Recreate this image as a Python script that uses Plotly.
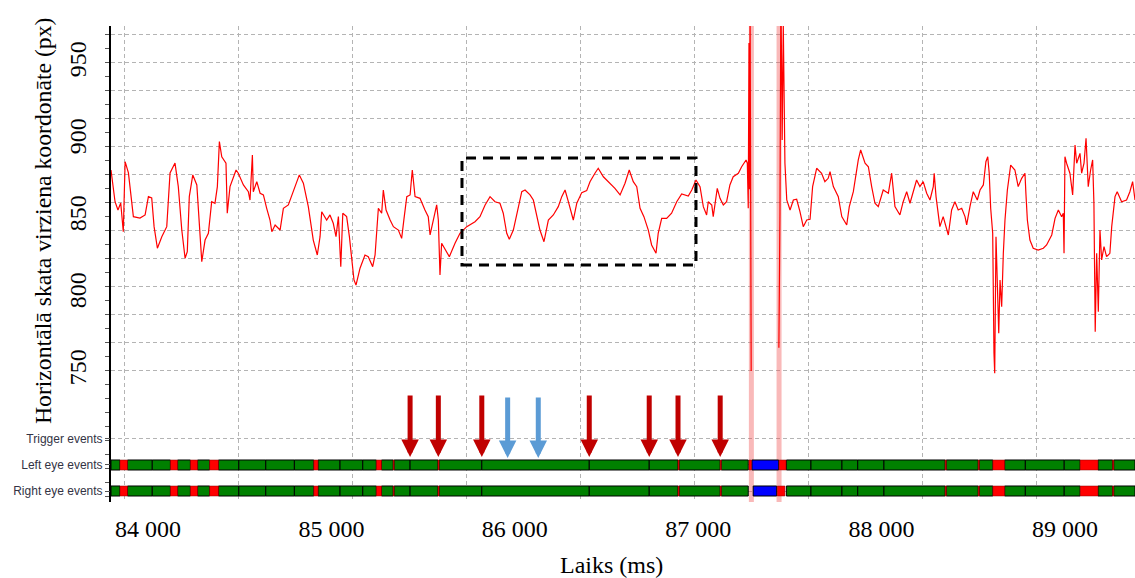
import plotly.graph_objects as go

# ---------------------------------------------------------------------------
# Gaze recording: horizontal gaze coordinate (px) against time (ms)
# ---------------------------------------------------------------------------
time_ms = [
    83798, 83808, 83820, 83836, 83851, 83865, 83875, 83893, 83911, 83920,
    83956, 83984, 84002, 84020, 84033, 84051, 84075, 84102, 84120, 84147,
    84165, 84184, 84202, 84214, 84225, 84244, 84266, 84284, 84293, 84311,
    84329, 84347, 84365, 84378, 84389, 84402, 84425, 84432, 84447, 84480,
    84492, 84520, 84547, 84556, 84569, 84574, 84593, 84611, 84629, 84647,
    84665, 84675, 84693, 84720, 84738, 84765, 84792, 84825, 84847, 84874,
    84901, 84923, 84938, 84947, 84974, 84992, 85010, 85025, 85038, 85051,
    85062, 85083, 85098, 85111, 85123, 85134, 85156, 85183, 85201, 85225,
    85238, 85256, 85274, 85283, 85298, 85320, 85338, 85365, 85383, 85396,
    85411, 85429, 85441, 85456, 85483, 85510, 85528, 85538, 85552, 85574,
    85583, 85592, 85601, 85629, 85643, 85674, 85701, 85738, 85783, 85810,
    85838, 85865, 85892, 85919, 85937, 85956, 85970, 85992, 86019, 86038,
    86056, 86083, 86101, 86119, 86137, 86159, 86183, 86210, 86237, 86256,
    86274, 86292, 86310, 86319, 86338, 86365, 86392, 86410, 86437, 86455,
    86483, 86510, 86546, 86574, 86601, 86624, 86646, 86665, 86683, 86704,
    86728, 86746, 86770, 86782, 86801, 86828, 86855, 86883, 86910, 86946,
    86965, 86988, 87010, 87028, 87046, 87055, 87074, 87082, 87104, 87119,
    87137, 87155, 87173, 87191, 87219, 87237, 87261, 87268, 87273,
    87277, 87280, 87283, 87286, 87289, 87365,
    87440, 87446, 87451, 87458, 87464, 87470,
    87473, 87483, 87501, 87519, 87537, 87555, 87573, 87592, 87610, 87624, 87646,
    87673, 87691, 87709, 87719, 87737, 87764, 87783, 87810, 87824, 87846,
    87873, 87886, 87910, 87928, 87946, 87964, 87982, 88009, 88037, 88055,
    88073, 88100, 88118, 88137, 88155, 88173, 88191, 88209, 88227, 88246,
    88264, 88282, 88287, 88297, 88309, 88318, 88336, 88355, 88364, 88382,
    88400, 88418, 88437, 88455, 88464, 88482, 88500, 88522, 88537, 88555,
    88569, 88579, 88587, 88595, 88606, 88613, 88617, 88624, 88631, 88639,
    88646, 88655, 88664, 88673, 88686, 88704, 88727, 88745, 88764, 88782,
    88787, 88795, 88809, 88827, 88854, 88882, 88900, 88928, 88946, 88964,
    88982, 88991, 88995, 89000, 89009, 89027, 89042, 89055, 89064, 89082,
    89091, 89104, 89115, 89127, 89140, 89151, 89158, 89165, 89173, 89182,
    89191, 89200, 89213, 89227, 89245, 89255, 89273, 89285, 89309, 89336,
    89354, 89369, 89382,
]

gaze_px = [
    880.5, 869.7, 859.9, 854.5, 859.1, 840.4, 885.9, 878.6, 859.1, 850.2,
    849.3, 851.3, 863.2, 862.3, 843.7, 829.7, 837.2, 843.7, 878.6, 885.0,
    869.7, 841.5, 823.2, 827.4, 863.2, 877.3, 870.8, 841.5, 821.0, 835.0,
    839.4, 859.9, 858.9, 869.7, 898.9, 889.1, 884.9, 852.4, 869.7, 880.5,
    878.4, 870.8, 866.4, 861.0, 890.2, 866.4, 872.9, 865.4, 864.3, 855.6,
    848.0, 840.4, 844.8, 841.5, 855.6, 857.8, 866.4, 877.3, 871.9, 856.7,
    835.0, 825.3, 837.2, 853.4, 848.0, 851.3, 845.9, 837.2, 850.2, 817.7,
    852.4, 850.2, 837.2, 824.2, 809.1, 805.8, 816.7, 825.3, 824.2, 817.7,
    825.3, 855.6, 852.4, 867.5, 854.5, 848.0, 843.7, 841.5, 836.1, 849.1,
    863.2, 864.3, 880.5, 863.2, 862.1, 854.5, 850.2, 838.3, 845.9, 857.8,
    848.0, 812.3, 832.9, 826.4, 824.2, 832.9, 839.4, 843.7, 846.9, 850.2,
    857.8, 863.2, 859.9, 858.9, 852.4, 839.4, 835.5, 841.5, 856.7, 866.4,
    867.5, 864.3, 861.0, 851.3, 841.5, 833.9, 848.0, 851.3, 856.7, 863.2,
    867.5, 859.9, 852.4, 848.0, 858.9, 865.8, 867.1, 872.9, 878.4, 881.6,
    876.1, 872.9, 868.6, 864.3, 871.9, 880.5, 872.9, 869.7, 855.6, 850.2,
    841.5, 831.8, 826.4, 839.4, 849.1, 849.1, 852.4, 859.9, 864.9, 863.6,
    867.5, 874.0, 869.7, 856.7, 851.3, 859.9, 857.8, 850.2, 868.6, 862.1,
    857.8, 859.9, 870.8, 876.1, 878.4, 882.6, 887.0, 884.9, 855.6,
    963.0, 868.0, 990.0, 820.0, 750.0, None,
    765.0, 853.0, 1000.0, 900.0, 975.0, 905.0,
    884.9, 861.0, 854.5, 861.0, 861.5, 853.4, 843.7, 848.0, 848.5, 869.7, 881.6,
    878.4, 872.9, 875.1, 879.4, 869.7, 863.2, 850.2, 844.8, 856.7, 866.4,
    887.0, 893.5, 884.9, 882.6, 869.7, 858.9, 856.7, 867.5, 865.4, 878.4,
    856.7, 851.3, 859.9, 866.4, 858.9, 866.4, 874.0, 869.7, 872.9, 865.4,
    861.0, 869.7, 878.4, 863.2, 852.4, 843.7, 850.2, 841.5, 838.3, 854.5,
    859.9, 854.5, 855.6, 850.2, 844.8, 856.7, 866.4, 861.0, 867.5, 870.8,
    885.9, 889.1, 878.4, 855.6, 839.4, 761.5, 748.5, 837.2, 800.4, 774.5,
    809.1, 791.7, 826.4, 848.0, 867.5, 883.7, 880.5, 869.7, 875.1, 878.4,
    865.4, 848.0, 835.0, 829.7, 828.5, 829.7, 831.8, 838.3, 849.1, 854.5,
    850.2, 852.4, 826.4, 889.1, 884.9, 878.4, 864.3, 896.7, 884.9, 891.3,
    878.4, 884.9, 901.1, 869.7, 880.5, 887.0, 858.9, 775.5, 826.4, 788.5,
    841.5, 822.1, 830.7, 824.2, 826.4, 843.7, 863.2, 866.4, 859.9, 861.0,
    866.4, 872.9, 861.0,
]

# Blink artefacts (tracker jumps off-scale)
blink_ms = [87290, 87441]

# ---------------------------------------------------------------------------
# Eye events: (start ms, end ms, kind)  F = fixation, S = saccade, B = blink
# ---------------------------------------------------------------------------
events_before_blink = [
    (83798, 83847, "F"), (83847, 83888, "S"), (83888, 84023, "F"), (84023, 84122, "F"),
    (84122, 84161, "S"), (84161, 84231, "F"), (84231, 84270, "S"), (84270, 84336, "F"),
    (84336, 84384, "S"), (84384, 84495, "F"), (84495, 84642, "F"), (84642, 84798, "F"),
    (84798, 84904, "F"), (84904, 84927, "S"), (84927, 85047, "F"), (85047, 85171, "F"),
    (85171, 85245, "F"), (85245, 85273, "S"), (85273, 85337, "F"), (85337, 85342, "S"),
    (85342, 85429, "F"), (85429, 85581, "F"), (85581, 85587, "S"), (85587, 85820, "F"),
    (85820, 86406, "F"), (86406, 86733, "F"), (86733, 86890, "F"), (86890, 86896, "S"),
    (86896, 87120, "F"), (87120, 87126, "S"), (87126, 87273, "F"),
]
left_blink_events = [(87277, 87291, "S"), (87293, 87439, "B"), (87441, 87479, "S")]
right_blink_events = [(87300, 87428, "B"), (87431, 87473, "S")]
events_after_blink = [
    (87481, 87615, "F"), (87615, 87784, "F"), (87784, 87870, "F"), (87870, 88013, "F"),
    (88013, 88347, "F"), (88347, 88353, "S"), (88353, 88527, "F"), (88527, 88533, "S"),
    (88533, 88607, "F"), (88607, 88671, "S"), (88671, 88784, "F"), (88784, 88996, "F"),
    (88996, 89083, "F"), (89083, 89180, "S"), (89180, 89260, "F"), (89260, 89266, "S"),
    (89266, 89382, "F"),
]
left_eye_events = events_before_blink + left_blink_events + events_after_blink
right_eye_events = events_before_blink + right_blink_events + events_after_blink

# Trigger markers (ms)
trigger_red_ms = [85429, 85583, 85820, 86406, 86733, 86890, 87120]
trigger_blue_ms = [85961, 86128]

# Highlighted window
window_ms = [85712, 86988]
window_px = [818.8, 888.3]

# Axes: ranges, grid positions and labels
x_range = [83798, 89382]
gaze_range = [664.9, 974.0]
row_range = [0.577, 18.88]
x_grid_ms = [83869, 84491, 85113, 85735, 86357, 86979, 87601, 88223, 88845]
x_label_ms = [84000, 85000, 86000, 87000, 88000, 89000]
x_label_text = ["84 000", "85 000", "86 000", "87 000", "88 000", "89 000"]
y_label_px = [750, 800, 850, 900, 950]
y_label_text = ["750", "800", "850", "900", "950"]
y_grid_px = [750 + k * 50 / 2.75 for k in range(13)]
y_minor_px = [750 + k * 25 / 2.75 for k in range(-9, 25)]
row_values = [0, 1, 2, 3]
row_names = ["User events", "Right eye events", "Left eye events", "Trigger events"]

SERIF = "Liberation Serif"
SANS = "Liberation Sans"
GRID = "#b4b4b4"
GRID_DASH = "4px,3px"

fig = go.Figure()

# pale full-height strokes where the tracker lost the eye
for t in blink_ms:
    fig.add_trace(go.Scatter(
        x=[t, t], y=[0, 2000], mode="lines",
        line=dict(color="rgba(240,80,80,0.40)", width=5),
        hoverinfo="skip", showlegend=False))

# gaze trace
fig.add_trace(go.Scatter(
    x=time_ms, y=gaze_px, mode="lines",
    line=dict(color="#ff0000", width=1.2),
    connectgaps=False, hoverinfo="skip", showlegend=False))

# event rows as horizontal bars
kind_style = {
    "F": dict(color="#008000", line=dict(color="#000000", width=1)),
    "B": dict(color="#0000ff", line=dict(color="#000000", width=1)),
    "S": dict(color="#ff0000", line=dict(color="#8a0000", width=0.5)),
}
for row_value, events in ((2, left_eye_events), (1, right_eye_events)):
    for kind in ("F", "B", "S"):
        sel = [e for e in events if e[2] == kind]
        fig.add_trace(go.Bar(
            orientation="h",
            base=[s for s, _, _ in sel],
            x=[e - s for s, e, _ in sel],
            y=[row_value] * len(sel),
            width=0.385,
            marker=kind_style[kind],
            xaxis="x", yaxis="y2",
            hoverinfo="skip", showlegend=False))

# empty trace so the label-only axes get their own subplot
fig.add_trace(go.Scatter(x=[], y=[], xaxis="x2", yaxis="y3",
                         hoverinfo="skip", showlegend=False))

# highlighted window
fig.add_shape(type="rect", xref="x", yref="y",
              x0=window_ms[0], x1=window_ms[1], y0=window_px[0], y1=window_px[1],
              line=dict(color="black", width=3, dash="10px,7px"), layer="above")

# trigger arrows
for t in trigger_red_ms:
    fig.add_annotation(x=t, y=2.31, xref="x", yref="y2", ax=0, ay=-63,
                       text="", showarrow=True, arrowhead=2, arrowsize=0.7,
                       arrowwidth=5, arrowcolor="#c00000", font=dict(size=1))
for t in trigger_blue_ms:
    fig.add_annotation(x=t, y=2.27, xref="x", yref="y2", ax=0, ay=-62,
                       text="", showarrow=True, arrowhead=2, arrowsize=0.7,
                       arrowwidth=5, arrowcolor="#5b9bd5", font=dict(size=1))

# row label that sits below the axis range
fig.add_annotation(x=0, y=row_values[0], xref="paper", yref="y2",
                   xanchor="right", yanchor="middle", xshift=-10,
                   text=row_names[0], showarrow=False,
                   font=dict(family=SANS, size=12, color="#333344"))

# axis titles
fig.add_annotation(x=-0.0665, y=0.59, xref="paper", yref="paper",
                   text="Horizontālā skata virziena koordonāte (px)",
                   textangle=-90, showarrow=False, xanchor="center", yanchor="middle",
                   font=dict(family=SERIF, size=23.7, color="black"))
fig.add_annotation(x=0.489, y=-0.132, xref="paper", yref="paper",
                   text="Laiks (ms)", showarrow=False, xanchor="center", yanchor="middle",
                   font=dict(family=SERIF, size=24, color="black"))

fig.update_layout(
    width=1135, height=578,
    margin=dict(l=111, r=0, t=26, b=76),
    paper_bgcolor="white", plot_bgcolor="white",
    barmode="overlay", showlegend=False, hovermode=False,
    xaxis=dict(range=x_range, tickmode="array", tickvals=x_grid_ms,
               showticklabels=False, ticks="", showgrid=True, gridcolor=GRID,
               gridwidth=1, griddash=GRID_DASH, zeroline=False, showline=False,
               automargin=False),
    xaxis2=dict(overlaying="x", anchor="y", side="bottom", range=x_range,
                tickmode="array", tickvals=x_label_ms, ticktext=x_label_text,
                showgrid=False, ticks="", zeroline=False, showline=False,
                ticklabelstandoff=10, automargin=False,
                tickfont=dict(family=SERIF, size=24, color="black")),
    yaxis=dict(range=gaze_range, tickmode="array", tickvals=y_grid_px,
               showticklabels=False, ticks="outside", ticklen=4, tickcolor="#555555",
               showgrid=True, gridcolor=GRID, gridwidth=1, griddash=GRID_DASH,
               showline=True, linecolor="black", linewidth=2, zeroline=False,
               automargin=False,
               minor=dict(tickmode="array", tickvals=y_minor_px, ticks="outside",
                          ticklen=4, tickcolor="#555555", showgrid=False)),
    yaxis2=dict(overlaying="y", side="left", range=row_range,
                tickmode="array", tickvals=row_values[1:], ticktext=row_names[1:],
                ticks="outside", ticklen=5, tickcolor="#555555",
                showgrid=True, gridcolor=GRID, gridwidth=1, griddash=GRID_DASH,
                zeroline=False, showline=False, automargin=False,
                tickfont=dict(family=SANS, size=12, color="#333344")),
    yaxis3=dict(overlaying="y", side="left", range=gaze_range,
                tickmode="array", tickvals=y_label_px, ticktext=y_label_text,
                tickangle=-90, ticks="", showgrid=False, zeroline=False,
                showline=False, ticklabelstandoff=19, automargin=False,
                tickfont=dict(family=SERIF, size=24, color="black")),
)

fig.write_html("out.html")
